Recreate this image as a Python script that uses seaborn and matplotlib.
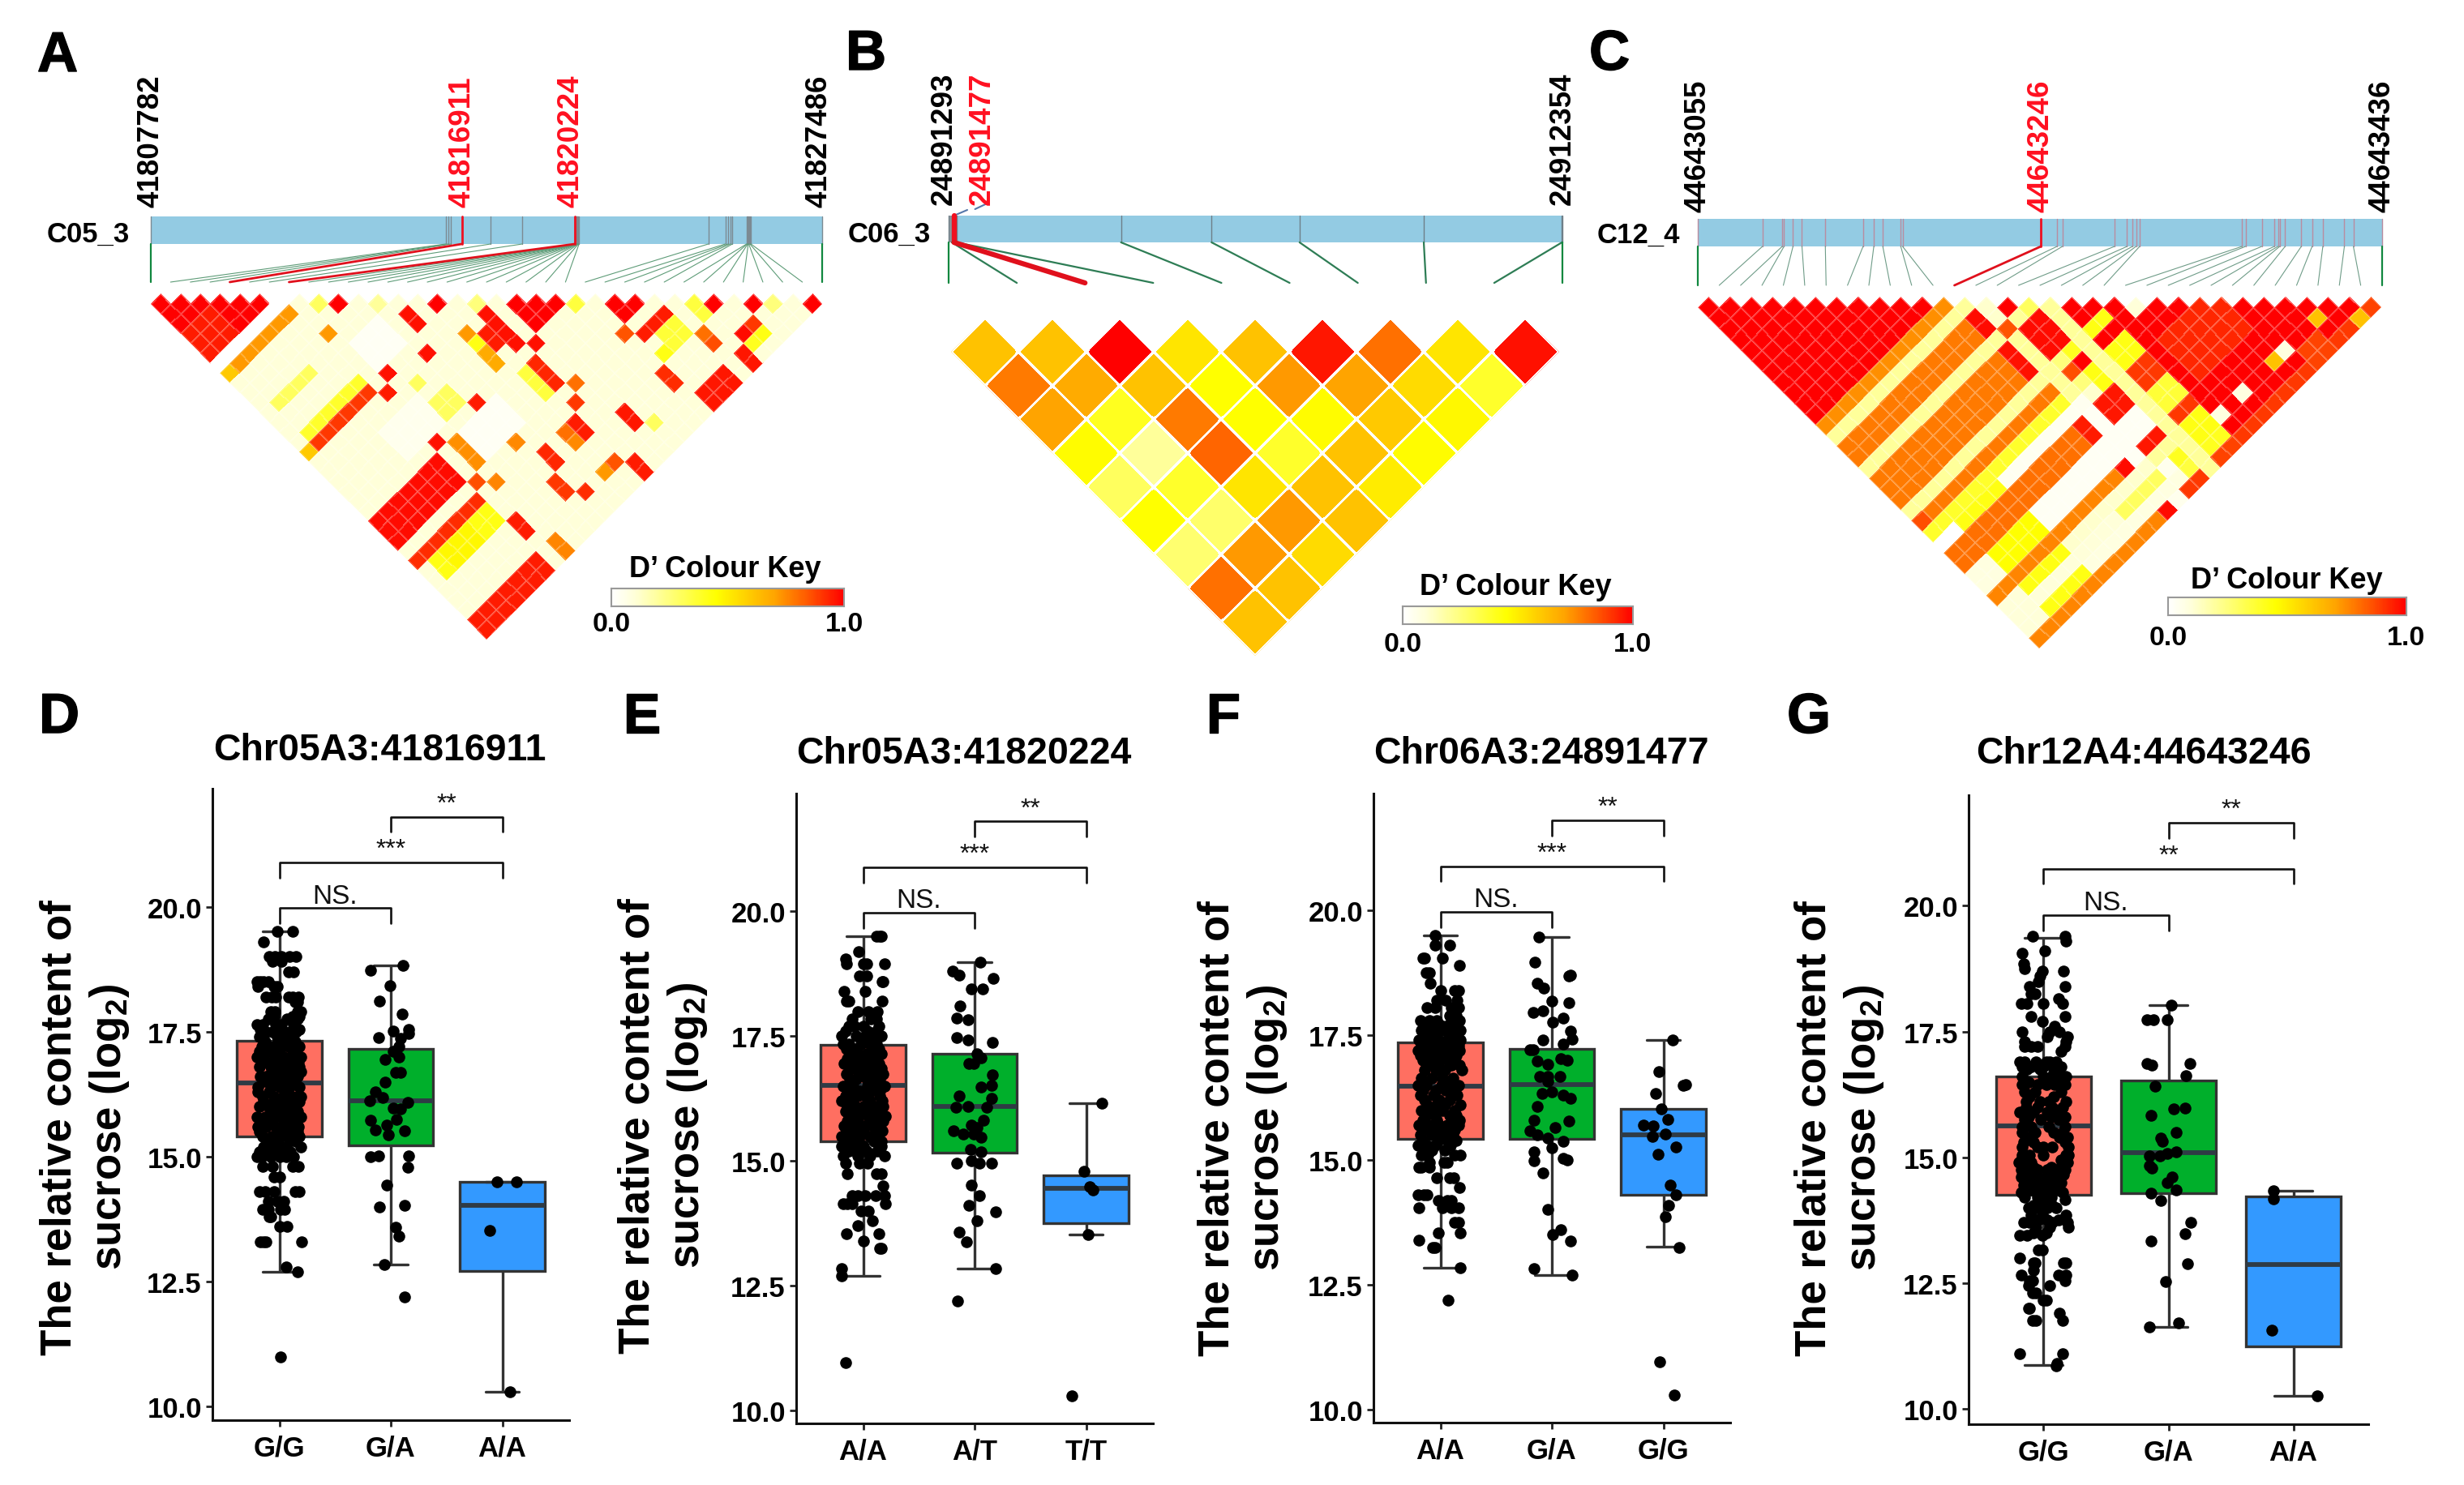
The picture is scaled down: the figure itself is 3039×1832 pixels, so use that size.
import numpy as np
import pandas as pd
import matplotlib
matplotlib.use("Agg")
import matplotlib.pyplot as plt
import matplotlib.patheffects as pe
from matplotlib.colors import LinearSegmentedColormap
from matplotlib.path import Path
from matplotlib.transforms import Affine2D, IdentityTransform
import seaborn as sns

# ---------------- DATA: gene maps (bp) ----------------
pos_a = [41807782, 41816437, 41816518, 41816598, 41816911, 41817754, 41818685, 41820224,
         41820230, 41820238, 41820245, 41820251, 41820258, 41820266, 41820273, 41820281,
         41820290, 41820298, 41820307, 41820318, 41820332, 41820350, 41824145, 41824643,
         41824723, 41824787, 41824851, 41825269, 41825285, 41825301, 41825317, 41825333,
         41825365, 41825397, 41827486]
pos_b = [24891293, 24891400, 24891477, 24891560, 24897207, 24900315, 24903334, 24907597,
         24912340, 24912354]
pos_c = [44643055, 44643091, 44643102, 44643103, 44643108, 44643113, 44643126, 44643147,
         44643153, 44643158, 44643168, 44643169, 44643246, 44643255, 44643258, 44643287,
         44643294, 44643297, 44643299, 44643301, 44643358, 44643360, 44643369, 44643376,
         44643378, 44643379, 44643382, 44643391, 44643397, 44643403, 44643415, 44643420,
         44643436]
hits_a = [41816911, 41820224]
hits_b = [24891477]
hits_c = [44643246]

# ---------------- DATA: D' blocks (i0, i1, j0, j1, D') ----------------
ld_a = [
    (0, 5, 1, 6, 1.0), (0, 2, 4, 6, .95), (0, 6, 7, 7, 0.0), (1, 6, 8, 8, .72), (0, 0, 8, 8, .6),
    (8, 8, 9, 9, .3), (9, 9, 10, 10, 1.0), (11, 11, 12, 12, .2), (14, 14, 15, 15, 1.0), (16, 16, 17, 17, .25),
    (18, 18, 19, 19, 1.0), (19, 19, 20, 20, 1.0), (20, 20, 21, 21, 1.0), (21, 21, 22, 22, .35),
    (23, 23, 24, 24, 1.0), (24, 24, 25, 25, 1.0), (28, 28, 29, 29, 1.0), (30, 30, 31, 31, 1.0),
    (33, 33, 34, 34, 1.0), (27, 27, 28, 28, .35), (31, 31, 32, 32, .25), (27, 27, 29, 29, .35),
    (12, 12, 14, 15, .97), (9, 10, 13, 13, .86), (7, 7, 11, 11, .72), (11, 11, 17, 17, .97),
    (8, 8, 16, 16, .97), (7, 7, 17, 17, .95), (1, 6, 16, 16, .9), (0, 0, 16, 16, .6), (1, 6, 15, 15, .38),
    (1, 4, 12, 12, .3), (8, 10, 13, 15, .03), (16, 16, 18, 21, .97), (15, 15, 19, 20, .95),
    (14, 14, 18, 18, .72), (14, 14, 19, 19, .42), (14, 14, 20, 21, .68), (18, 19, 20, 21, 1.0),
    (17, 17, 22, 22, .97), (16, 16, 23, 25, .93), (15, 15, 23, 25, .35), (17, 17, 26, 26, .8), (16, 16, 27, 27, .9),
    (11, 11, 22, 22, .95), (15, 15, 28, 29, .95), (14, 14, 28, 28, .8), (14, 14, 29, 29, .75),
    (18, 18, 30, 31, .96), (22, 22, 26, 26, .85), (23, 23, 25, 25, 1.0), (23, 25, 27, 27, .95),
    (24, 25, 28, 29, .36), (23, 23, 29, 29, .42), (26, 26, 30, 30, .8), (26, 26, 31, 31, .86),
    (29, 29, 32, 32, .9), (28, 28, 32, 32, .98), (29, 29, 33, 33, .42), (28, 28, 33, 33, .4),
    (27, 27, 33, 34, .96), (22, 22, 30, 31, .92), (23, 25, 33, 34, .96), (19, 19, 32, 32, .3),
    (15, 15, 32, 32, .85), (14, 14, 32, 32, .72), (16, 16, 33, 34, .95), (12, 12, 28, 29, .93),
    (11, 11, 30, 31, .9), (12, 12, 32, 32, .92), (11, 11, 26, 26, .75), (7, 7, 22, 22, .97),
    (8, 8, 23, 25, .74), (0, 6, 23, 25, .98), (7, 7, 26, 26, .86), (8, 8, 27, 27, .76),
    (0, 6, 27, 27, .92), (1, 6, 28, 29, .42), (2, 4, 28, 29, .47), (7, 7, 30, 31, .95), (8, 8, 33, 34, .76),
    (0, 6, 33, 34, .95), (9, 10, 20, 21, .3), (9, 9, 18, 18, .3), (5, 8, 19, 21, .05), (9, 12, 23, 25, .03),
]
ld_b_levels = [
    [.62, .62, 1.0, .52, .62, .96, .8, .52, .97],
    [.78, .68, .62, .45, .72, .7, .55, .38],
    [.7, .4, .78, .45, .46, .6, .47],
    [.46, .2, .82, .38, .62, .46],
    [.3, .38, .52, .62, .5],
    [.45, .28, .72, .62],
    [.27, .72, .55],
    [.8, .62],
    [.62],
]
ld_c = [
    (0, 10, 1, 11, 1.0), (0, 11, 12, 12, .74), (0, 12, 13, 13, .2), (0, 11, 14, 15, .78), (12, 12, 14, 15, .98),
    (13, 13, 14, 15, .12), (14, 14, 15, 15, 1.0), (0, 12, 16, 16, .2), (13, 13, 16, 16, .85),
    (14, 14, 16, 16, .2), (15, 15, 16, 16, .3), (0, 11, 17, 19, .78), (12, 12, 17, 19, .97),
    (13, 13, 17, 22, .2), (14, 15, 17, 19, .98), (16, 16, 17, 32, .2), (17, 18, 18, 19, 1.0),
    (0, 13, 20, 20, .2), (14, 14, 20, 20, .25), (15, 15, 20, 20, .4), (17, 18, 20, 20, .42), (19, 19, 20, 20, 1.0),
    (0, 12, 21, 21, .78), (0, 0, 21, 21, .86), (14, 14, 21, 21, .86), (15, 15, 21, 21, 1.0), (17, 19, 21, 21, 1.0),
    (0, 12, 22, 22, .38), (14, 14, 22, 22, .25), (15, 15, 22, 22, .42), (17, 18, 22, 22, .42),
    (0, 1, 23, 23, 0.0), (2, 5, 23, 23, .42), (6, 13, 23, 23, .04), (14, 14, 23, 23, .12), (15, 15, 23, 23, .42), (17, 18, 23, 23, .42),
    (0, 11, 24, 25, .8), (12, 12, 24, 25, .95), (13, 13, 24, 25, .03), (14, 15, 24, 25, .96), (17, 18, 24, 25, .9),
    (0, 1, 26, 27, .08), (2, 5, 26, 27, .45), (6, 15, 26, 27, .03), (17, 18, 26, 27, .36),
    (0, 11, 28, 28, .76), (12, 12, 28, 28, .98), (13, 13, 28, 28, .03), (14, 15, 28, 28, .96), (17, 18, 28, 28, .9),
    (0, 1, 29, 29, .1), (2, 5, 29, 29, .42), (6, 13, 29, 29, .12), (14, 15, 29, 29, .2), (17, 18, 29, 29, .42),
    (0, 9, 30, 30, .1), (10, 13, 30, 30, .3), (14, 14, 30, 30, .05), (15, 15, 30, 30, .4), (17, 18, 30, 30, .42),
    (0, 1, 31, 31, .1), (2, 5, 31, 31, .42), (6, 14, 31, 31, .08), (15, 15, 31, 31, .35), (17, 18, 31, 31, .4),
    (0, 11, 32, 32, .76), (12, 12, 32, 32, .98), (13, 13, 32, 32, .05), (14, 15, 32, 32, .9), (17, 18, 32, 32, .88),
    (19, 31, 22, 31, 1.0), (19, 29, 32, 32, .9), (19, 19, 30, 30, .08), (20, 24, 24, 27, .93),
    (21, 21, 30, 30, .08), (24, 24, 30, 30, .62), (25, 25, 30, 30, .08), (28, 28, 30, 30, .62),
    (30, 30, 32, 32, .62), (31, 31, 32, 32, .88), (26, 27, 31, 32, .88),
]

# ---------------- DATA: box statistics (low whisker, Q1, median, Q3, high whisker) ----------------
box_d = [[12.7, 15.4, 16.48, 17.32, 19.5], [12.85, 15.22, 16.11, 17.15, 18.82], [10.3, 12.72, 14.02, 14.5, 14.5]]
box_e = [[12.7, 15.4, 16.52, 17.33, 19.5], [12.85, 15.17, 16.1, 17.15, 18.98], [13.52, 13.75, 14.45, 14.72, 16.15]]
box_f = [[12.85, 15.42, 16.48, 17.36, 19.5], [12.7, 15.42, 16.52, 17.23, 19.47], [13.26, 14.3, 15.5, 16.03, 17.41]]
box_g = [[10.86, 14.25, 15.62, 16.6, 19.37], [11.63, 14.28, 15.09, 16.53, 18.03], [10.25, 11.23, 12.87, 14.22, 14.34]]

# ---------------- DATA: points, {value: [horizontal offsets]} ----------------
d1 = {19.5: [-.02, .12], 19.3: [-.14], 19.0: [-.09, -.04, .02, .09, .15], 18.9: [.02, -.06], 18.7: [.08, .13],
      18.5: [-.2, -.17, -.14, -.1], 18.4: [-.19, -.05, -.02], 18.2: [-.12, -.07, -.03, .08, .12, .17],
      18.1: [.14, .16], 17.9: [-.08, -.04, .16, .19], 17.8: [.12, .18, -.05], 17.65: [-.2, -.15, -.03, .02, .13],
      17.5: [-.12, -.06, 0, .05, .1, .15], 17.4: [-.18, -.02, .03, .07, .12], 17.2: [-.16, -.1, -.05, .02, .08, .18],
      17.0: [-.2, -.14, -.04, .04, .1, .16, .19], 16.8: [-.18, -.08, -.01, .06, .13, .18],
      16.6: [-.17, -.12, -.03, .05, .11, .16], 16.4: [-.19, -.08, 0, .09, .18], 16.2: [-.15, -.05, .03, .12, .17, .19],
      16.0: [-.18, -.1, -.02, .06, .14], 15.8: [-.2, -.13, -.05, .02, .1, .19], 15.6: [-.19, -.12, -.03, .04, .09, .17],
      15.4: [-.15, -.07, .01, .14, .18], 15.2: [-.14, -.05, .03, .19], 15.0: [-.2, -.16, -.08, 0, .06, .13],
      14.8: [-.15, -.06, .12, .17], 14.6: [-.05, 0], 14.3: [-.18, -.13, -.05, .14, .18], 14.1: [-.1, -.02, .04],
      13.95: [-.15, -.1, .05, .01], 13.8: [-.09, -.08], 13.6: [0, .07], 13.3: [-.17, -.14, -.12, .2],
      12.8: [.06], 12.7: [.16], 11.0: [.01]}
d1b = {17.75: [-.1, .07, .16], 17.55: [-.17, .18], 17.3: [-.13, -.01, .05, .14], 17.1: [-.18, -.08, 0, .13],
       16.9: [-.12, -.03, .04, .1, .17], 16.7: [-.07, .01, .09, .19], 16.5: [-.14, -.04, .05, .14], 16.3: [-.19, -.09, .07],
       16.1: [-.14, -.05, .03, .11, .18], 15.9: [-.08, 0, .08, .16], 15.7: [-.16, -.07, .05, .13],
       15.5: [-.18, -.01, .06, .16], 15.3: [-.1, -.02, .09, .15], 15.1: [-.18, -.11, 0, .1]}
d2_v = [18.73, 18.42, 18.82, 18.12, 17.86, 17.38, 17.51, 17.36, 17.54, 17.46, 17.2, 17.1, 17.0, 16.95, 16.69, 16.69,
        16.49, 16.29, 16.19, 16.11, 15.98, 16.08, 15.95, 15.73, 15.63, 15.75, 15.54, 15.52, 15.44, 15.0, 15.02, 15.02,
        14.79, 14.43, 14.0, 14.02, 13.59, 13.41, 12.85, 12.2]
d2_x = [-.18, -.01, .11, -.1, .1, -.11, .02, .09, .16, .16, .07, .02, .07, -.05, .04, .09,
        -.05, -.14, -.07, -.19, .02, .15, .09, -.18, -.04, .05, -.14, .12, -.02, -.18, -.11, .16,
        .15, -.04, -.1, .12, .04, .07, -.06, .12]
d3_v = [14.5, 14.5, 13.52, 10.3]
d3_x = [-.05, .13, -.11, .07]

e1 = {19.5: [.12, .15, .16], 19.2: [-.04], 19.05: [-.16], 18.95: [-.15, 0, .03, .19], 18.7: [-.03, .03],
      18.6: [.17, .18], 18.4: [-.17, .02], 18.2: [-.15, -.13, .17], 18.0: [-.05, .05, .13], 17.85: [-.1, .07, .12],
      17.7: [-.13, -.08, 0, .14], 17.5: [-.19, -.06, .02, .09, .16], 17.35: [-.18, -.13, -.02, .06, .12],
      17.15: [-.1, -.04, .03, .1, .16], 16.95: [-.17, -.12, -.06, .01, .08, .14], 16.75: [-.15, -.03, .05, .13, .18],
      16.5: [-.18, -.09, .04, .11, .19], 16.3: [-.16, -.05, .02, .15], 16.1: [-.14, -.07, 0, .08, .12, .18],
      15.9: [-.13, -.04, .05, .15, .2], 15.7: [-.17, -.08, .02, .09, .14], 15.5: [-.19, -.11, -.03, .06, .13],
      15.3: [-.19, -.08, 0, .16], 15.1: [-.18, -.05, .06, .19], 14.95: [-.16, -.03, .04], 14.75: [-.14, .12, .16],
      14.5: [.18], 14.3: [-.1, -.05, .02, .11, .19], 14.15: [-.18, -.14, -.1, .2], 14.0: [-.02, .05], 13.8: [.08],
      13.7: [-.05], 13.55: [-.15, .14], 13.4: [0], 13.25: [.15, .16], 12.85: [-.19], 12.7: [-.19], 10.97: [-.16]}
e1b = {17.6: [-.16, .04, .12], 17.25: [-.15, -.07, .08, .14], 17.05: [-.14, -.02, .06, .12], 16.85: [-.1, 0, .09, .16],
       16.65: [-.12, -.06, .03, .1, .15], 16.4: [-.13, -.03, .07, .15], 16.2: [-.19, -.1, .06, .17], 16.0: [-.16, -.08, .03, .1],
       15.8: [-.14, -.05, .06, .12, .18], 15.6: [-.15, -.07, 0, .11, .17], 15.4: [-.14, -.04, .1, .16], 15.2: [-.13, -.02, .03, .13]}
e2_v = [18.8, 18.73, 18.98, 18.66, 18.45, 18.45, 18.1, 17.86, 17.83, 17.47, 17.43, 17.38, 17.15, 17.07, 16.95, 16.95,
        16.72, 16.49, 16.51, 16.3, 16.25, 16.08, 16.08, 16.1, 15.82, 15.72, 15.67, 15.6, 15.54, 15.54, 15.47, 15.23,
        15.19, 14.96, 15.01, 14.96, 14.96, 14.52, 14.3, 14.12, 13.99, 13.81, 13.58, 13.38, 12.85, 12.19]
e2_x = [-.2, -.14, .05, .17, -.03, .07, -.13, -.16, -.06, -.16, -.06, .16, .02, .06, -.05, -.01,
        .16, .06, .15, -.14, .15, .11, -.17, -.06, .08, -.03, .02, -.19, -.1, -.01, .06, -.04,
        .06, -.16, -.03, .04, .15, -.03, .04, -.05, .19, .02, -.14, -.07, .19, -.15]
e3_v = [16.15, 14.79, 14.48, 14.42, 13.52, 10.3]
e3_x = [.14, -.02, .03, .06, .02, -.13]

f1 = {19.5: [-.05], 19.3: [-.05, .08], 19.05: [-.16, -.14, .02], 18.9: [.17], 18.75: [-.13, -.1], 18.55: [-.09],
      18.4: [0, .13, .16], 18.2: [-.03, .05, .15], 18.05: [-.12, -.05, .1, .16], 17.9: [.08, .14],
      17.8: [-.18, -.1, -.03, .12, .17], 17.6: [-.17, -.13, -.06, .03, .1, .18], 17.4: [-.19, -.09, -.02, .06, .14, .18],
      17.2: [-.2, -.12, -.05, .03, .1, .17], 17.0: [-.16, -.09, -.01, .07, .13], 16.8: [-.14, -.04, .04, .19],
      16.5: [-.2, -.13, .01, .08, .16], 16.3: [-.18, -.06, .11, .15], 16.1: [-.12, -.03, .04, .18],
      15.9: [-.13, -.05, .08, .14], 15.7: [-.19, -.1, -.01, .06, .16], 15.5: [-.18, -.08, 0, .11],
      15.3: [-.2, -.12, -.05, .09], 15.1: [-.17, -.11, .13, .18], 14.95: [-.1, .03, .06], 14.85: [-.19, -.17, -.1],
      14.65: [-.03, .08, .12], 14.45: [.17], 14.3: [-.2, -.15, -.12], 14.2: [-.02, .06, .1], 14.05: [-.19, .02, .1, .16],
      13.75: [.13, .16], 13.55: [-.02, .18], 13.4: [-.19], 13.25: [-.07, -.05], 12.85: [.18], 12.2: [.07]}
f1b = {17.7: [-.14, 0, .07, .15], 17.5: [-.15, -.03, .12], 17.3: [-.17, -.07, .01, .08, .16], 17.1: [-.18, -.03, .05, .14],
       16.9: [-.12, -.02, .1, .17], 16.65: [-.17, -.08, .02, .11], 16.4: [-.16, -.04, .05, .13], 16.2: [-.14, -.01, .08],
       16.0: [-.17, -.08, .02, .13], 15.8: [-.16, -.03, .11, .17], 15.6: [-.14, -.05, .05, .13],
       15.4: [-.16, -.02, .06, .14], 15.2: [-.15, -.08, .04]}
f2_v = [19.47, 18.96, 18.68, 18.7, 18.55, 18.45, 18.18, 18.15, 17.96, 17.99, 17.84, 17.76, 17.59, 17.43, 17.33, 17.41,
        17.21, 17.21, 16.92, 16.98, 17.0, 17.03, 16.67, 16.67, 16.67, 16.57, 16.33, 16.31, 16.23, 16.36, 16.08, 15.8,
        15.78, 15.65, 15.58, 15.5, 15.45, 15.38, 15.24, 15.17, 15.04, 15.01, 14.99, 14.74, 14.02, 13.6, 13.51, 13.38,
        12.83, 12.7]
f2_x = [-.12, -.15, .15, .17, -.13, -.07, 0, .15, -.17, -.08, .1, .01, .17, .18, .1, -.08,
        -.17, -.2, -.04, -.13, .14, .08, -.04, -.11, .07, -.04, -.09, .1, .17, 0, -.13, -.16,
        .15, .03, -.2, -.13, -.04, .1, 0, -.16, .1, .14, -.16, -.08, -.04, .08, .01, .17,
        -.16, .18]
f3_v = [17.41, 16.77, 16.52, 16.5, 16.33, 16.03, 15.82, 15.7, 15.68, 15.48, 15.53, 15.27, 15.11, 14.5, 14.3, 14.1,
        13.87, 13.25, 10.97, 10.3]
f3_x = [.08, -.04, .2, .18, -.07, -.02, .04, -.18, -.09, -.1, .02, .11, -.05, .06, .11, .05,
        .02, .14, -.03, .1]

g1 = {19.4: [-.09, .17], 19.3: [.18], 19.1: [.01], 19.05: [-.17], 18.85: [-.16], 18.75: [-.15], 18.7: [-.01, .16],
      18.6: [-.03], 18.5: [-.04], 18.4: [-.11, .17], 18.25: [-.1, -.07], 18.15: [.12], 18.05: [-.18, -.13, 0, .15],
      17.8: [-.1, .17], 17.7: [-.01], 17.6: [.09], 17.5: [-.17, .05, .13], 17.4: [.19, .03], 17.3: [-.15, .18],
      17.2: [-.15, -.1, .17, -.05], 17.1: [.14], 16.9: [-.19, -.15, -.06, .05, .1, .02], 16.75: [-.13, -.03, .08],
      16.6: [-.17, 0, .06, .12, .18], 16.45: [-.17, -.05, .02, .09, .17], 16.3: [-.15, -.07, .14],
      16.1: [-.14, -.03, .04, .18], 15.9: [-.19, -.08, .03, .1], 15.75: [-.15, -.02, .12], 15.6: [-.17, -.1, .04, .17],
      15.4: [-.12, .13, .19], 15.2: [-.17, -.05, 0, .07, .2], 15.05: [-.17, -.11, 0, .18, .2], 14.9: [-.2, -.16, -.1, .19],
      14.75: [-.18, -.12, -.05, .03, .11, .17], 14.6: [-.18, -.1, -.04, .02, .07, .13], 14.45: [-.16, -.07, .04, .1],
      14.3: [-.18, -.05, .01, .15], 14.15: [0, .17], 14.0: [-.12, -.05, .03, .1], 13.85: [-.1, -.01, .18],
      13.7: [-.16, -.11, .07, .19], 13.6: [.2, -.06, .05], 13.45: [-.19, -.13, -.01], 13.15: [-.04, -.01], 13.0: [-.19],
      12.9: [-.08, -.07, .16, .18], 12.75: [-.08], 12.65: [-.18, .12, .18], 12.55: [-.11, -.09, .17], 12.45: [-.12, .05],
      12.3: [-.09, -.06], 12.15: [.02, 0], 12.0: [-.11, -.12], 11.9: [.13], 11.75: [-.09, -.06, .15], 11.1: [-.19, .15],
      10.9: [.11], 10.85: [.1]}
g1b = {16.8: [-.17, -.1, 0, .14], 16.5: [-.12, .13], 16.2: [-.11, .08], 16.0: [-.14, -.05, .07, .15], 15.8: [-.12, .06, .17],
       15.5: [-.17, -.07, .08, .15], 15.3: [-.16, -.08, .17], 14.95: [-.18, -.13, .14, .16], 14.8: [-.08, .06, .14],
       14.65: [-.15, -.06, .04, .16], 14.5: [-.12, -.01, .07, .14], 14.35: [-.12, -.09, .09], 14.2: [-.15, -.05, .06],
       14.05: [-.08, 0, .07], 13.75: [-.04, .03, .12], 13.5: [-.08, .02]}
g2_v = [18.03, 17.74, 17.74, 17.74, 16.87, 16.83, 16.87, 16.63, 16.42, 15.96, 15.97, 15.84, 15.5, 15.38, 15.31, 15.1,
        15.08, 15.03, 15.03, 14.83, 14.78, 14.6, 14.5, 14.29, 14.35, 14.14, 13.7, 13.48, 13.34, 12.89, 12.53, 11.7, 11.63]
g2_x = [.02, -.17, -.12, -.01, -.17, -.13, .17, .14, -.11, .04, .13, -.14, .06, -.06, -.05, .06,
        -.01, -.15, -.07, -.15, -.13, .03, -.01, -.14, .06, -.06, .18, .13, -.14, .15, -.02, .08, -.15]
g3_v = [14.34, 14.17, 11.56, 10.25]
g3_x = [-.16, -.16, -.17, .19]

# ---------------- Layout & style ----------------
W, H = 3039, 1833
sns.set_style("ticks")
plt.rcParams["font.family"] = ["Liberation Sans", "DejaVu Sans"]
plt.rcParams["mathtext.fontset"] = "custom"
plt.rcParams["mathtext.rm"] = "Liberation Sans"
plt.rcParams["mathtext.bf"] = "Liberation Sans:bold"
plt.rcParams["mathtext.default"] = "bf"
for key in ("text.color", "axes.labelcolor", "xtick.color", "ytick.color"):
    plt.rcParams[key] = "black"

fig = plt.figure(figsize=(W / 100, H / 100), dpi=100, facecolor="white")
ld_cmap = LinearSegmentedColormap.from_list(
    "ld", [(0, "#FFFFFF"), (.1, "#FFFFD8"), (.45, "#FFFF00"), (.7, "#FFA500"), (.85, "#FF5500"), (1, "#FF0000")])
box_cols = ["#FF6F61", "#00AF2B", "#3399FF"]


def rect(l, t, r, b):
    return [l / W, 1 - b / H, (r - l) / W, (b - t) / H]


def T(x, y, s, **kw):
    return fig.text(x / W, 1 - y / H, s, **kw)


def gene_map(px, positions, hits, labels, label_bottom, chrom, chrom_xy, bar_h, conn, tick_col, line_col,
             hit_lw):
    ax = fig.add_axes(rect(*px))
    ax.set_xlim(positions[0], positions[-1])
    ax.set_ylim(bar_h + conn, 0)
    ax.axis("off")
    ax.axhspan(0, bar_h, color="#93CBE3", lw=0, zorder=1)
    n = len(positions)
    lows = np.linspace(positions[0], positions[-1], n)
    for k, p in enumerate(positions):
        if p in hits:
            continue
        ax.plot([p, p], [0, bar_h], color=tick_col, lw=1.0, zorder=2, clip_on=False)
        end = k in (0, n - 1)
        ax.plot([p, lows[k]], [bar_h, bar_h + conn], color="#11883F" if end else line_col,
                lw=1.6 if (end or n < 12) else .8, zorder=3, clip_on=False)
    for k, p in enumerate(positions):
        if p in hits:
            ax.plot([p, p], [0, bar_h], color="#F01020", lw=hit_lw, zorder=4, clip_on=False)
            ax.plot([p, lows[k]], [bar_h, bar_h + conn], color="#E0101C", lw=hit_lw, zorder=4, clip_on=False)
    for p, txt, c in labels:
        ax.text(p, -label_bottom, txt, rotation=90, ha="center", va="bottom", color=c,
                fontsize=26.5, fontweight="bold", clip_on=False)
    T(chrom_xy[0], chrom_xy[1], chrom, ha="right", va="center", fontsize=25, fontweight="bold")
    return ax


def ld_matrix(n, blocks, base):
    m = np.full((n - 1, n - 1), np.nan)
    for i in range(n - 1):
        for j in range(i + 1, n):
            m[i, j - 1] = base
    for i0, i1, j0, j1, v in blocks:
        for i in range(i0, i1 + 1):
            for j in range(max(j0, i + 1), j1 + 1):
                m[i, j - 1] = v
    return m


def ld_triangle(mat, xl, yc, s, lw, line):
    m = mat.shape[0]
    ax = fig.add_axes(rect(xl, yc - s, xl + 2 * s * m, yc + s * m))
    sns.heatmap(mat, cmap=ld_cmap, vmin=0, vmax=1, cbar=False, linewidths=lw, linecolor=line,
                xticklabels=False, yticklabels=False, ax=ax)
    ax.axis("off")
    mesh = ax.collections[0]
    mesh.set_transform(Affine2D.from_values(s, -s, s, s, xl, H - yc))
    # keep only the triangle: the masked half of the matrix still has cell borders
    tri = Path([(xl, H - yc), (xl + s, H - yc + s + 1), (xl + 2 * s * m - s, H - yc + s + 1), (xl + 2 * s * m, H - yc),
                (xl + s * m, H - yc - s * m), (xl, H - yc)])
    mesh.set_clip_box(fig.bbox)
    mesh.set_clip_path(tri, IdentityTransform())


def colour_key(l, t, r, b, title_xy, lab_y):
    ax = fig.add_axes(rect(l, t, r, b))
    sns.heatmap(np.linspace(0, 1, 256)[None, :], cmap=ld_cmap, vmin=0, vmax=1, cbar=False,
                xticklabels=False, yticklabels=False, ax=ax)
    for sp in ax.spines.values():
        sp.set_visible(True)
        sp.set_color("#999999")
        sp.set_linewidth(1.5)
    T(title_xy[0], title_xy[1], "D\u2019 Colour Key", ha="center", va="center", fontsize=26, fontweight="bold")
    T(l, lab_y, "0.0", ha="center", va="center", fontsize=24.5, fontweight="bold")
    T(r, lab_y, "1.0", ha="center", va="center", fontsize=24.5, fontweight="bold")


# ---------- A ----------
gene_map((186, 268, 1014, 349), pos_a, hits_a,
         [(pos_a[0], "41807782", "black"), (41816911, "41816911", "#FF1020"), (41820100, "41820224", "#FF1020"),
          (41827400, "41827486", "black")], 12, "C05_3", (160, 289), 34, 47, "#7C8A92", "#5E9C78", 2.0)
ld_triangle(ld_matrix(35, ld_a, .1), 186, 375.5, 12.18, .5, (1, 1, 1, .22))
colour_key(754, 727, 1041, 749, (894, 702), 771)

# ---------- B ----------
gb = gene_map((1170, 267, 1927, 350), pos_b, hits_b,
              [(24891133, "24891293", "black"), (24892430, "24891477", "#FF1020"), (24912354, "24912354", "black")],
              14, "C06_3", (1148, 289), 33, 50, "#6F7F88", "#2E7D55", 4.5)
gb.plot([24891477, 24891933], [0, -7], color="#5577AA", lw=1.5, clip_on=False)
gb.plot([24892199, 24892554], [-8, -14], color="#5577AA", lw=1.5, clip_on=False)
gb.axvspan(24891293, 24891560, ymin=.6, ymax=1, color="#8C969C", lw=0, zorder=1.5)
ld_b = np.full((9, 9), np.nan)
for lev, vals in enumerate(ld_b_levels):
    for i, v in enumerate(vals):
        ld_b[i, i + lev] = v
ld_triangle(ld_b, 1173, 435, 41.67, 1.1, "white")
colour_key(1730, 749, 2014, 771, (1869, 725), 795)

# ---------- C ----------
gene_map((2094, 271, 2938, 353), pos_c, hits_c,
         [(pos_c[0], "44643055", "black"), (44643246, "44643246", "#FF1020"), (pos_c[-1], "44643436", "black")],
         9, "C12_4", (2072, 290), 34, 48, "#B98CA0", "#6F9C88", 2.0)
ld_triangle(ld_matrix(33, ld_c, .1), 2094, 380, 13.17, .5, (1, 1, 1, .22))
colour_key(2674, 738, 2968, 760, (2820, 716), 788)


# ---------- D-G ----------
def rows_to_xy(*tables):
    xs, ys = [], []
    for rows in tables:
        for v, offs in rows.items():
            xs += offs
            ys += [v] * len(offs)
    return xs, ys


def boxpanel(px, ylim, cats, stats, groups, title, title_xy, label_xy, br, star2):
    ax = fig.add_axes(rect(*px))
    df = pd.DataFrame({
        "pos": np.repeat([0, 1, 2], 5),
        "genotype": np.repeat(["a", "b", "c"], 5),
        "value": np.concatenate(stats),
    })
    sns.boxplot(data=df, x="pos", y="value", hue="genotype", palette=dict(zip("abc", box_cols)),
                native_scale=True, dodge=False, legend=False, width=.76, whis=(0, 100), saturation=1,
                linecolor="#333333", linewidth=2.4, capwidths=.3, ax=ax,
                medianprops=dict(linewidth=4.2, color="#2F3B45"))
    for k, (gx, gy) in enumerate(groups):
        sns.scatterplot(x=np.asarray(gx, float) + k, y=gy, color="black", s=110, linewidth=0, ax=ax, zorder=6)
    ax.set_xlim(-.6, 2.6)
    ax.set_ylim(*ylim)
    ax.set_xticks([0, 1, 2], labels=cats)
    ax.set_yticks([10, 12.5, 15, 17.5, 20], labels=["10.0", "12.5", "15.0", "17.5", "20.0"])
    ax.set_xlabel("")
    ax.tick_params(axis="both", width=2, length=5.5, labelsize=25, color="#222222")
    ax.tick_params(axis="x", pad=7)
    ax.tick_params(axis="y", pad=4)
    for t in ax.get_xticklabels() + ax.get_yticklabels():
        t.set_fontweight("bold")
    sns.despine(ax=ax)
    for s in ("left", "bottom"):
        ax.spines[s].set_linewidth(2.2)
        ax.spines[s].set_color("#111111")
    ax.set_ylabel("The relative content of\nsucrose (log$_{2}$)", fontsize=38, fontweight="bold",
                  linespacing=1.24, ha="center", va="center")
    ax.yaxis.set_label_coords(label_xy[0] / W, 1 - label_xy[1] / H, transform=fig.transFigure)
    T(title_xy[0], title_xy[1], title, ha="center", va="center", fontsize=33.5, fontweight="bold")
    # significance brackets
    for (x0, x1, y), lab, tx in zip([(0, 1, br[0]), (0, 2, br[1]), (1, 2, br[2])],
                                    ["NS.", star2, "**"], [.5, 1, 1.5]):
        ax.plot([x0, x0, x1, x1], [y - .3, y, y, y - .3], color="#111111", lw=1.9, clip_on=False, zorder=7)
        ax.text(tx, y + (.11 if lab == "NS." else .13), lab, ha="center", va="baseline",
                fontsize=24 if lab == "NS." else 23, color="#111111", clip_on=False)


brk = (19.97, 20.88, 21.8)
boxpanel((262, 974, 702, 1753), (9.73, 22.36), ["G/G", "G/A", "A/A"], box_d,
         [rows_to_xy(d1, d1b), (d2_x, d2_v), (d3_x, d3_v)], "Chr05A3:41816911", (468, 926), (105, 1391), brk, "***")
boxpanel((982, 980, 1422, 1757), (9.745, 22.36), ["A/A", "A/T", "T/T"], box_e,
         [rows_to_xy(e1, e1b), (e2_x, e2_v), (e3_x, e3_v)], "Chr05A3:41820224", (1189, 930), (818, 1389), brk, "***")
boxpanel((1694, 980, 2134, 1756), (9.745, 22.34), ["A/A", "G/A", "G/G"], box_f,
         [rows_to_xy(f1, f1b), (f2_x, f2_v), (f3_x, f3_v)], "Chr06A3:24891477", (1901, 930), (1533, 1392), brk, "***")
boxpanel((2428, 982, 2921, 1758), (9.69, 22.2), ["G/G", "G/A", "A/A"], box_g,
         [rows_to_xy(g1, g1b), (g2_x, g2_v), (g3_x, g3_v)], "Chr12A4:44643246", (2644, 930), (2269, 1392),
         (19.81, 20.74, 21.65), "**")

# panel letters
for letter, x, y in [("A", 46, 89), ("B", 1043, 87), ("C", 1960, 87), ("D", 48, 905), ("E", 768, 905),
                     ("F", 1487, 905), ("G", 2204, 905)]:
    t = T(x, y, letter, ha="left", va="baseline", fontsize=50, fontweight="bold")
    t.set_path_effects([pe.withStroke(linewidth=1, foreground="black")])

fig.savefig("out.png", dpi=100, facecolor="white")
